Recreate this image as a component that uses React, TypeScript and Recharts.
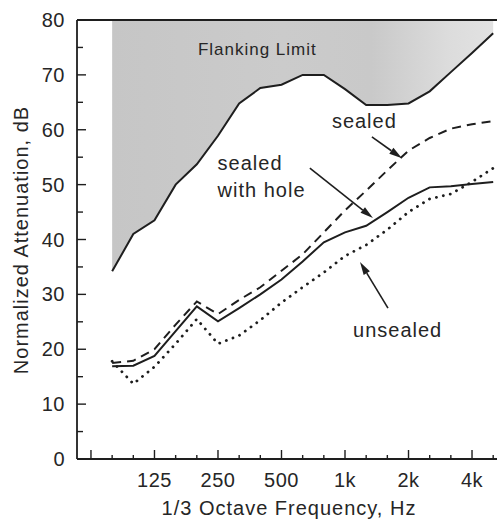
import React from 'react';
import { ComposedChart, Line, Area, XAxis, YAxis, ReferenceLine, ReferenceDot } from 'recharts';

// 1/3 octave band centre frequencies (index = band position on the axis)
const bandLabels = ['63', '80', '100', '125', '160', '200', '250', '315', '400', '500', '630', '800', '1k', '1.25k', '1.6k', '2k', '2.5k', '3.15k', '4k', '5k'];
const labeledBands = ['125', '250', '500', '1k', '2k', '4k'];
const majorBands = ['63', '125', '250', '500', '1k', '2k', '4k'];
const measuredBands = ['80', '100', '125', '160', '200', '250', '315', '400', '500', '630', '800', '1k', '1.25k', '1.6k', '2k', '2.5k', '3.15k', '4k', '5k'];

// Normalized attenuation, dB
const flankingLimit = [34.2, 41, 43.5, 50, 53.7, 58.9, 64.8, 67.6, 68.2, 70, 70, 67.4, 64.5, 64.5, 64.8, 67, 70.5, 74, 77.6];
const sealed = [17.5, 17.9, 20, 24.5, 28.7, 26.4, 29, 31.3, 34.3, 37.3, 41.3, 45.3, 48.9, 52.6, 56.2, 58.5, 60.2, 61, 61.6];
const sealedWithHole = [16.9, 17, 18.8, 23.3, 27.8, 25.1, 27.5, 30, 32.7, 36, 39.5, 41.3, 42.5, 45, 47.6, 49.5, 49.7, 50.1, 50.5];
const unsealed = [17.8, 13.7, 16.8, 21, 25.5, 21, 22.5, 25.3, 28.5, 31.3, 34, 37, 39, 41.8, 45, 47.4, 48.3, 50.5, 53];

const yTicks = [0, 5, 10, 15, 20, 25, 30, 35, 40, 45, 50, 55, 60, 65, 70, 75, 80];
const yMax = 80;

const data = measuredBands.map((b, k) => ({
  band: bandLabels.indexOf(b),
  flank: flankingLimit[k],
  flankRange: [flankingLimit[k], yMax],
  sealed: sealed[k],
  hole: sealedWithHole[k],
  unsealed: unsealed[k],
}));

const INK = '#1e1e1e';
const TEXT = '#262626';
const FONT = '"Liberation Sans", Arial, Helvetica, sans-serif';

const XTick = (props: any) => {
  const { x, y, payload } = props;
  const lab = bandLabels[payload.value];
  const major = majorBands.includes(lab);
  return (
    <g>
      <line x1={x} x2={x} y1={y} y2={y - (major ? 9 : 4)} stroke={INK} strokeWidth={1.4} />
      {labeledBands.includes(lab) && (
        <text x={x} y={y + 28} textAnchor="middle" fontSize={20} letterSpacing={0.5} fill={TEXT} fontFamily={FONT}>
          {lab}
        </text>
      )}
    </g>
  );
};

const YTick = (props: any) => {
  const { x, y, payload } = props;
  const v = payload.value;
  const major = v % 10 === 0;
  return (
    <g>
      <line x1={x} x2={x + (major ? 9 : 6)} y1={y} y2={y} stroke={INK} strokeWidth={1.4} />
      {major && (
        <text x={x - 12} y={y + 7} textAnchor="end" fontSize={20} letterSpacing={0.5} fill={TEXT} fontFamily={FONT}>
          {v}
        </text>
      )}
    </g>
  );
};

const Arrow = (props: any) => {
  const { x1, y1, x2, y2 } = props;
  const dx = x2 - x1;
  const dy = y2 - y1;
  const len = Math.sqrt(dx * dx + dy * dy);
  const ux = dx / len;
  const uy = dy / len;
  const hl = 13;
  const hw = 3.6;
  const bx = x2 - ux * hl;
  const by = y2 - uy * hl;
  const pts = `${x2},${y2} ${bx - uy * hw},${by + ux * hw} ${bx + uy * hw},${by - ux * hw}`;
  return (
    <g>
      <line x1={x1} y1={y1} x2={bx} y2={by} stroke={INK} strokeWidth={1.6} />
      <polygon points={pts} fill={INK} />
    </g>
  );
};

const makeText = (lines: string[], size: number) => (props: any) => {
  const { cx, cy } = props;
  return (
    <text x={cx} y={cy} fontSize={size} letterSpacing={1} fill={TEXT} fontFamily={FONT}>
      {lines.map((l, i) => (
        <tspan key={i} x={cx} dy={i === 0 ? 0 : size * 1.35}>
          {l}
        </tspan>
      ))}
    </text>
  );
};

export default function App() {
  return (
    <div style={{ position: 'absolute', left: 0, top: 0, background: '#fff' }}>
      <ComposedChart
        width={499}
        height={520}
        data={data}
        margin={{ top: 20, right: 2, bottom: 0, left: 0 }}
        style={{ fontFamily: FONT }}
      >
        <defs>
          <linearGradient id="shade" x1="0" y1="0" x2="1" y2="0">
            <stop offset="0" stopColor="#c6c6c6" />
            <stop offset="0.45" stopColor="#cbcbcb" />
            <stop offset="0.68" stopColor="#c9c9c9" />
            <stop offset="0.88" stopColor="#dcdcdc" />
            <stop offset="1" stopColor="#e2e2e2" />
          </linearGradient>
        </defs>
        <XAxis
          dataKey="band"
          type="number"
          domain={[-0.66, 19.18]}
          ticks={bandLabels.map((_, i) => i)}
          interval={0}
          tick={<XTick />}
          tickLine={false}
          tickSize={0}
          tickMargin={0}
          axisLine={{ stroke: INK, strokeWidth: 1.8 }}
          height={61}
          allowDataOverflow
        />
        <YAxis
          type="number"
          domain={[0, yMax]}
          ticks={yTicks}
          interval={0}
          tick={<YTick />}
          tickLine={false}
          tickSize={0}
          tickMargin={0}
          axisLine={{ stroke: INK, strokeWidth: 1.8 }}
          width={77}
        />
        <Area dataKey="flankRange" type="linear" stroke="none" fill="url(#shade)" fillOpacity={1} isAnimationActive={false} />
        <ReferenceLine y={yMax} stroke={INK} strokeWidth={2} />
        <Line dataKey="flank" type="linear" stroke={INK} strokeWidth={2} dot={false} isAnimationActive={false} />
        <Line dataKey="sealed" type="linear" stroke={INK} strokeWidth={2} strokeDasharray="9 6" dot={false} isAnimationActive={false} />
        <Line dataKey="hole" type="linear" stroke={INK} strokeWidth={2} dot={false} isAnimationActive={false} />
        <Line dataKey="unsealed" type="linear" stroke={INK} strokeWidth={2.8} strokeDasharray="0.1 7" strokeLinecap="round" dot={false} isAnimationActive={false} />

        <ReferenceLine segment={[{ x: 13.27, y: 58.7 }, { x: 14.69, y: 54.8 }]} shape={Arrow} ifOverflow="visible" />
        <ReferenceLine segment={[{ x: 10.34, y: 53.0 }, { x: 13.32, y: 43.9 }]} shape={Arrow} ifOverflow="visible" />
        <ReferenceLine segment={[{ x: 14.03, y: 27.5 }, { x: 12.71, y: 35.9 }]} shape={Arrow} ifOverflow="visible" />

        <ReferenceDot x={5.05} y={73.6} r={1} shape={makeText(['Flanking Limit'], 17)} ifOverflow="visible" />
        <ReferenceDot x={11.38} y={60.3} r={1} shape={makeText(['sealed'], 20)} ifOverflow="visible" />
        <ReferenceDot x={5.98} y={52.7} r={1} shape={makeText(['sealed', 'with hole'], 20)} ifOverflow="visible" />
        <ReferenceDot x={12.38} y={22.2} r={1} shape={makeText(['unsealed'], 20)} ifOverflow="visible" />

        <text x={28} y={240} transform="rotate(-90, 28, 240)" textAnchor="middle" fontSize={20} letterSpacing={1} fill={TEXT} fontFamily={FONT}>
          Normalized Attenuation, dB
        </text>
        <text x={289} y={515} textAnchor="middle" fontSize={20} letterSpacing={1} fill={TEXT} fontFamily={FONT}>
          1/3 Octave Frequency, Hz
        </text>
      </ComposedChart>
    </div>
  );
}
